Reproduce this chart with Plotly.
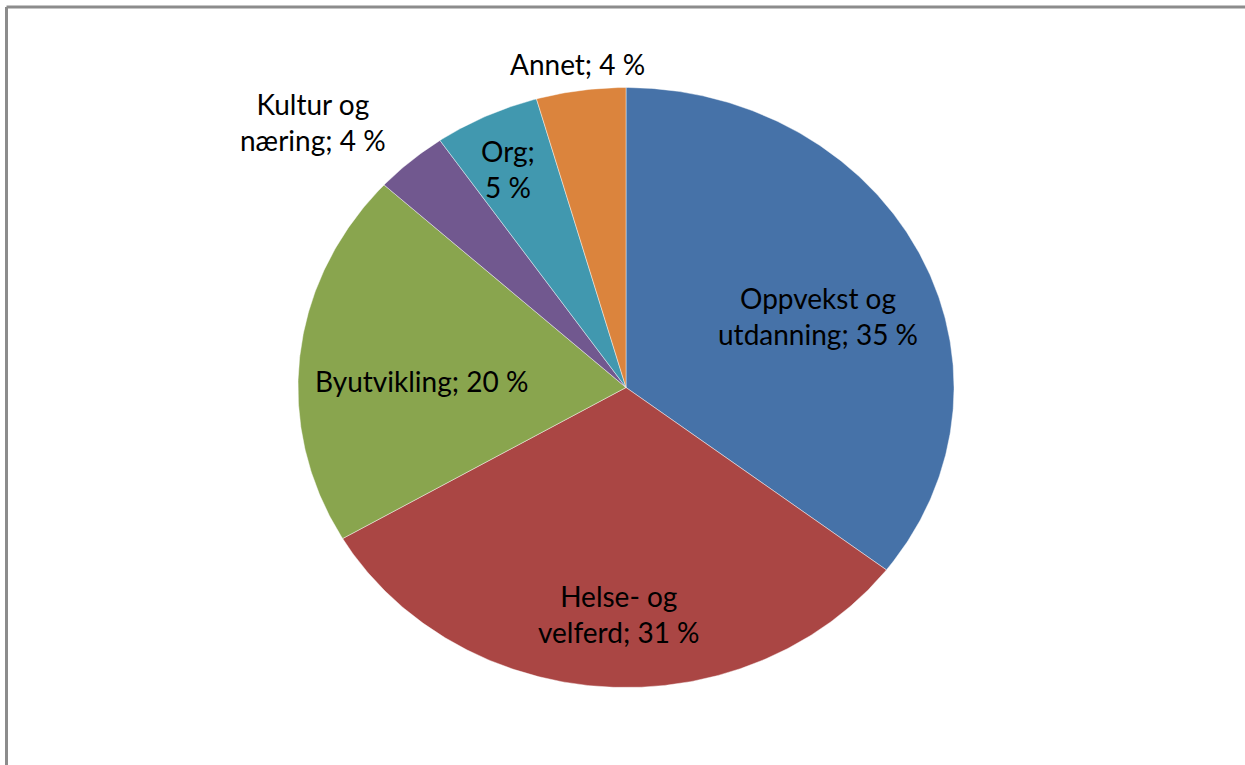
import numpy as np
import plotly.graph_objects as go

# ---- data ----
categories = ["Oppvekst og utdanning", "Helse- og velferd", "Byutvikling",
              "Kultur og næring", "Org", "Annet"]
shares = [35.4, 31.2, 20.2, 3.6, 5.2, 4.4]
label_texts = ["Oppvekst og<br>utdanning; 35 %", "Helse- og<br>velferd; 31 %",
               "Byutvikling; 20 %", "Kultur og<br>næring; 4 %", "Org;<br>5 %", "Annet; 4 %"]
colors = ["#4672A8", "#AA4644", "#89A54E", "#71588F", "#4198AF", "#DB843D"]

# label positions in axis units (ellipse radius = 1)
label_pos = [(0.585, 0.238), (-0.021, -0.755), (-0.622, 0.022),
             (-0.954, 0.885), (-0.360, 0.728), (-0.149, 1.078)]

W, H = 1245, 765
cx_px, cy_px, rx_px, ry_px = 626, 387.5, 328, 300

fig = go.Figure()
total = sum(shares)
start = 0.0
for cat, val, col in zip(categories, shares, colors):
    a0 = start / total * 2 * np.pi
    a1 = (start + val) / total * 2 * np.pi
    t = np.linspace(a0, a1, max(8, int(val * 8)))
    xs = np.concatenate([[0], np.sin(t), [0]])
    ys = np.concatenate([[0], np.cos(t), [0]])
    fig.add_trace(go.Scatter(x=xs, y=ys, mode="lines", fill="toself",
                             fillcolor=col, line=dict(color="rgba(255,255,255,0.55)", width=0.8),
                             name=cat, hoverinfo="name", showlegend=False))
    start += val

for txt, (lx, ly) in zip(label_texts, label_pos):
    fig.add_annotation(x=lx, y=ly, text=txt, showarrow=False,
                       font=dict(family="Lato", size=28, color="#000000"),
                       xanchor="center", yanchor="middle")

fig.update_xaxes(range=[-cx_px / rx_px, (W - cx_px) / rx_px], visible=False, fixedrange=True)
fig.update_yaxes(range=[-(H - cy_px) / ry_px, cy_px / ry_px], visible=False, fixedrange=True)

# chart frame (left and top edges visible)
fig.add_shape(type="line", xref="paper", yref="paper", x0=6.5 / W, x1=6.5 / W,
              y0=-0.05, y1=1 - 7 / H, line=dict(color="#8C8C8C", width=3))
fig.add_shape(type="line", xref="paper", yref="paper", x0=6.5 / W, x1=1.05,
              y0=1 - 7 / H, y1=1 - 7 / H, line=dict(color="#8C8C8C", width=3))

fig.update_layout(width=W, height=H, autosize=False,
                  margin=dict(l=0, r=0, t=0, b=0),
                  paper_bgcolor="white", plot_bgcolor="white")
fig.write_html("out.html", config={"displayModeBar": False},
               post_script="document.body.style.margin='0';document.body.style.overflow='hidden';")
